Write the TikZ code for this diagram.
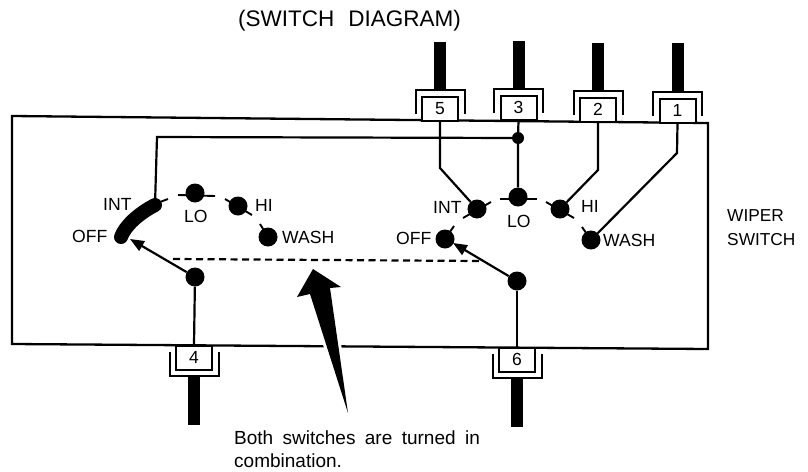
\documentclass[tikz,border=0pt]{standalone}
\usepackage{fontspec}
\setmainfont{Liberation Sans}
\usetikzlibrary{arrows.meta}
\tikzset{
  x=1pt,y=-1pt,
  wire/.style={line width=2.2pt,line join=miter},
  frame/.style={line width=2.3pt,line join=miter},
  bracket/.style={line width=2pt,line join=miter},
  contact/.style={circle,fill=black,draw=none,minimum size=19pt,inner sep=0pt},
  junction/.style={circle,fill=black,draw=none,minimum size=12pt,inner sep=0pt},
  tick/.style={line width=1.9pt},
  termbox/.style={draw=black,line width=2pt,fill=white,minimum width=36pt,minimum height=24pt,inner sep=0pt,font=\fontsize{17.5}{20}\selectfont},
  lbl/.style={anchor=west,inner sep=0pt,font=\fontsize{17.6}{20}\selectfont},
  txt/.style={anchor=west,inner sep=0pt,font=\fontsize{17.3}{20}\selectfont},
  armtip/.style={-{Triangle[length=14pt,width=11pt]},line width=2.2pt},
  cable/.style={fill=black,draw=none}
}
% name, x, bracket y, cable end y, label
\newcommand{\topterm}[5]{%
  \fill[cable] (#2-6,#4) rectangle (#2+6,#3);
  \draw[bracket] (#2-24.5,#3+24) -- (#2-24.5,#3) -- (#2+24.5,#3) -- (#2+24.5,#3+24);
  \node[termbox] (#1) at (#2,#3+18.5) {#5};}
\newcommand{\botterm}[5]{%
  \fill[cable] (#2-6,#4) rectangle (#2+6,#3);
  \draw[bracket] (#2-24.5,#3-24) -- (#2-24.5,#3) -- (#2+24.5,#3) -- (#2+24.5,#3-24);
  \node[termbox] (#1) at (#2,#3-18.5) {#5};}
\newcommand{\wsp}{\hspace{9.4pt}}
\begin{document}
\begin{tikzpicture}
\useasboundingbox (0,0) rectangle (808,471);
% frame
\draw[frame] (12,116) -- (708,123) -- (708,349) -- (12,344) -- cycle;
% terminals
\topterm{t5}{440}{90}{42}{5}
\topterm{t3}{518.5}{89}{41}{3}
\topterm{t2}{598}{91}{43}{2}
\topterm{t1}{677.5}{92}{43}{1}
\botterm{t4}{194}{376}{425}{4}
\botterm{t6}{517}{378}{427}{6}
% right-hand contacts
\node[contact] (rint) at (477,209) {};
\node[contact] (rlo) at (518,197) {};
\node[contact] (rhi) at (560,209) {};
\node[contact] (rwash) at (591,240) {};
\node[contact] (roff) at (445,239) {};
\node[contact] (rarm) at (517,281) {};
\node[junction] (jn) at (518,138) {};
% left-hand contacts
\node[contact] (llo) at (195,193) {};
\node[contact] (lhi) at (238,206) {};
\node[contact] (lwash) at (268,237) {};
\node[contact] (larm) at (195,277) {};
\coordinate (loff) at (121,237);
\coordinate (lint) at (155,205);
\coordinate (ltop) at (157,137);
\coordinate (b5) at (440,168);
\coordinate (b2) at (598,170);
\coordinate (b1) at (677,153);
\coordinate (ltip) at (130,239);
\coordinate (rtip) at (453,243);
\coordinate (d1) at (173,259);
\coordinate (d2) at (480,261);
% wires
\draw[wire] (t5.south) -- (b5) -- (rint);
\draw[wire] (t3.south) -- (jn) -- (rlo);
\draw[wire] (t2.south) -- (b2) -- (rhi);
\draw[wire] (t1.south) -- (b1) -- (rwash);
\draw[wire] (jn) -- (ltop) -- (lint);
\draw[wire] (t4.north) -- (larm);
\draw[wire] (t6.north) -- (rarm);
\draw[armtip] (larm) -- (ltip);
\draw[armtip] (rarm) -- (rtip);
\draw[line width=2.2pt,dash pattern=on 7pt off 4.5pt] (d1) -- (d2);
% thick bridge
\draw[line width=14pt,line cap=round] (loff) .. controls (125,226) and (138,214) .. (lint);
% contact ticks
\draw[tick] (160,202) -- (168,199);
\draw[tick] (178,195) -- (215,196);
\draw[tick] (225,199) -- (252,215);
\draw[tick] (260,224) -- (268,237);
\draw[tick] (463,218) -- (491,202);
\draw[tick] (500,199) -- (537,199);
\draw[tick] (546,202) -- (574,218);
\draw[tick] (582,227) -- (591,240);
\draw[tick] (445,239) -- (454,226);
% big arrow
\draw[white,line width=6pt,fill=black,line join=miter] (313,269) -- (341,287) -- (330,288) -- (348,413) -- (310,294) -- (297,297) -- cycle;
\fill[black] (313,269) -- (341,287) -- (330,288) -- (348,413) -- (310,294) -- (297,297) -- cycle;
% labels
\node[lbl] (a1) at (103,204) {INT};
\node[lbl] (a2) at (72,236) {OFF};
\node[lbl] (a3) at (184,216) {LO};
\node[lbl] (a4) at (255,205) {HI};
\node[lbl] (a5) at (282,237) {WASH};
\node[lbl] (b6) at (433,207) {INT};
\node[lbl] (b7) at (396,238) {OFF};
\node[lbl] (b8) at (507,221) {LO};
\node[lbl] (b9) at (581,206) {HI};
\node[lbl] (b10) at (603,240) {WASH};
\node[txt] (w1) at (727,216) {WIPER};
\node[txt] (w2) at (727,240) {SWITCH};
\node[anchor=west,inner sep=0pt,font=\fontsize{22.5}{26}\selectfont] (title) at (238,21) {(SWITCH\hspace{14pt}DIAGRAM)};
\node[anchor=base west,inner sep=0pt,font=\fontsize{19}{23}\selectfont] (n1) at (234,444) {Both\wsp switches\wsp are\wsp turned\wsp in};
\node[anchor=base west,inner sep=0pt,font=\fontsize{19}{23}\selectfont] (n2) at (234,467) {combination.};
\end{tikzpicture}
\end{document}
